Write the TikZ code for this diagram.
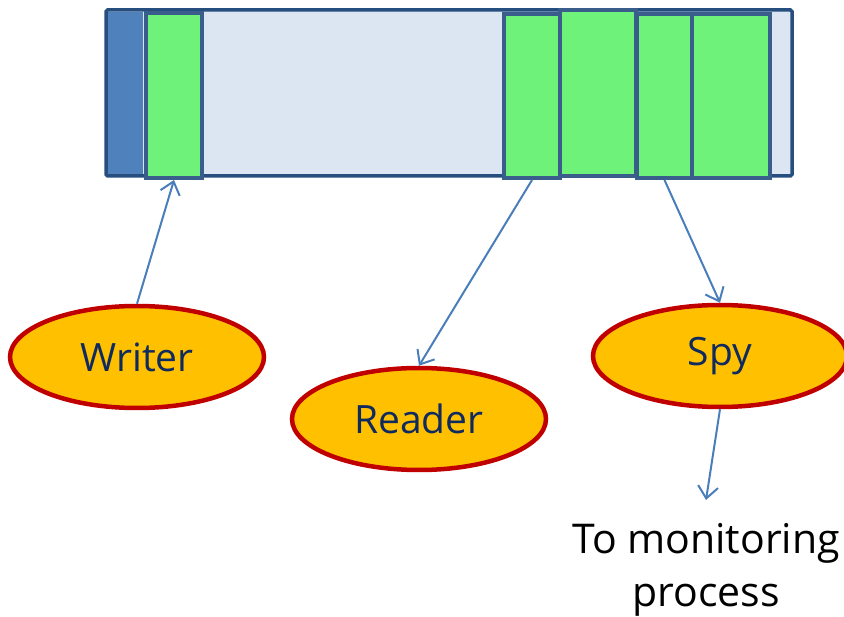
\documentclass[tikz,border=0pt]{standalone}
\usepackage{fontspec}
\setmainfont{Open Sans}
\usetikzlibrary{shapes.geometric,arrows.meta}
\definecolor{barline}{HTML}{264E7E}
\definecolor{barfill}{HTML}{DCE6F2}
\definecolor{cellline}{HTML}{3A5E8C}
\definecolor{headfill}{HTML}{4F81BD}
\definecolor{cellfill}{HTML}{6FF27A}
\definecolor{ovalline}{HTML}{C00000}
\definecolor{ovalfill}{HTML}{FFC000}
\definecolor{arrowc}{HTML}{4A7EBB}
\definecolor{labelc}{HTML}{0F2A5E}
\tikzset{
  cell/.style={draw=cellline, line width=4pt, fill=cellfill, inner sep=0pt, anchor=north west},
  role/.style={ellipse, draw=ovalline, line width=4.5pt, fill=ovalfill, inner sep=0pt,
    minimum width=254pt, minimum height=102pt, text=labelc, font=\fontsize{39}{44}\selectfont},
  link/.style={draw=arrowc, line width=2pt, -{Straight Barb[length=12pt,width=20pt]}}
}
\begin{document}
\begin{tikzpicture}[x=1pt, y=-1pt]
\useasboundingbox (0,0) rectangle (844,617);
% buffer bar
\draw[draw=barline, fill=barfill, line width=3.5pt, rounded corners=1.5pt] (106,10) rectangle (792,176);
\fill[headfill] (108,12) rectangle (143,174);
% occupied slots
\node[cell, minimum width=56pt, minimum height=165pt] (wcell) at (144,11) {};
\node[cell, minimum width=56pt, minimum height=164pt] (c1) at (502,12) {};
\node[cell, minimum width=76pt, minimum height=166pt] (c2) at (558,8) {};
\node[cell, minimum width=55pt, minimum height=164pt] (c3) at (635,12) {};
\node[cell, minimum width=78pt, minimum height=164pt] (c4) at (690,12) {};
% processes
\node[role] (writer) at (137,357) {Writer};
\node[role] (reader) at (419,419) {Reader};
\node[role] (spy) at (720,356) {Spy};
\node[font=\fontsize{41}{53}\selectfont, align=center, inner sep=0pt, outer ysep=23pt, anchor=north] (mon) at (706,500) {To monitoring\\process};
% connections
\draw[link] (writer.north) -- (wcell.south);
\draw[link] (c1.south) -- (reader.north);
\draw[link] (c3.south) -- (spy.north);
\draw[link] (spy.south) -- (mon.north);
\end{tikzpicture}
\end{document}
